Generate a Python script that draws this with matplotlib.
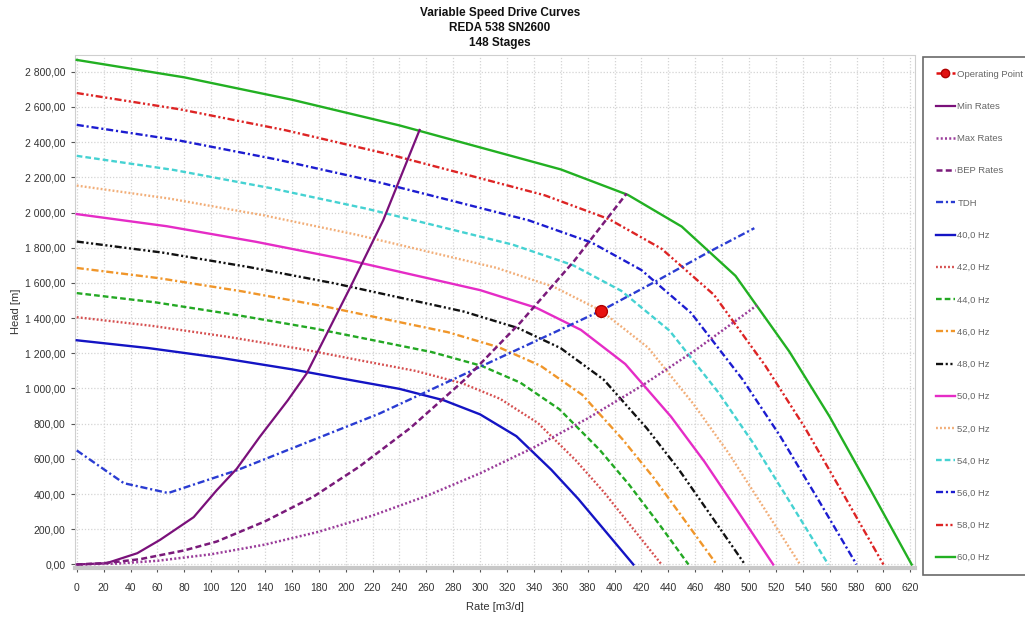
import matplotlib
matplotlib.use("Agg")
import matplotlib.pyplot as plt
from matplotlib.lines import Line2D
from matplotlib.ticker import FuncFormatter, MultipleLocator

plt.rcParams["font.family"] = ["Liberation Sans", "DejaVu Sans"]

title_lines = ["Variable Speed Drive Curves", "REDA 538 SN2600", "148 Stages"]
x_label = "Rate [m3/d]"
y_label = "Head [m]"

# Pump head curves, one per drive frequency (rate m3/d, head m)
rate_40 = [0, 53, 107, 160, 200, 240, 273, 300, 327, 353, 373, 393, 414]
head_40 = [1274, 1230, 1174, 1109, 1053, 998, 933, 853, 729, 538, 373, 191, 0]
rate_42 = [0, 56, 112, 168, 210, 252, 287, 315, 343, 371, 392, 413, 435]
head_42 = [1405, 1356, 1294, 1223, 1161, 1100, 1029, 941, 804, 593, 412, 211, 0]
rate_44 = [0, 59, 117, 176, 220, 264, 301, 330, 359, 389, 411, 433, 455]
head_44 = [1542, 1489, 1420, 1342, 1275, 1207, 1129, 1033, 882, 651, 452, 231, 0]
rate_46 = [0, 61, 123, 184, 230, 276, 314, 345, 376, 406, 429, 452, 476]
head_46 = [1685, 1627, 1552, 1467, 1393, 1320, 1234, 1129, 964, 711, 494, 253, 0]
rate_48 = [0, 64, 128, 192, 240, 288, 328, 360, 392, 424, 448, 472, 497]
head_48 = [1835, 1772, 1690, 1597, 1517, 1437, 1344, 1229, 1050, 774, 538, 275, 0]
rate_50 = [0, 67, 133, 200, 250, 300, 342, 375, 408, 442, 467, 492, 518]
head_50 = [1991, 1922, 1834, 1733, 1646, 1559, 1458, 1333, 1139, 840, 583, 299, 0]
rate_52 = [0, 69, 139, 208, 260, 312, 355, 390, 425, 459, 485, 511, 538]
head_52 = [2153, 2079, 1984, 1874, 1780, 1686, 1577, 1442, 1232, 909, 631, 323, 0]
rate_54 = [0, 72, 144, 216, 270, 324, 369, 405, 441, 477, 504, 531, 559]
head_54 = [2322, 2242, 2139, 2021, 1920, 1818, 1701, 1555, 1328, 980, 680, 348, 0]
rate_56 = [0, 75, 149, 224, 280, 336, 383, 420, 457, 495, 523, 551, 580]
head_56 = [2498, 2411, 2301, 2173, 2065, 1956, 1829, 1673, 1429, 1054, 732, 375, 0]
rate_58 = [0, 77, 155, 232, 290, 348, 396, 435, 474, 512, 541, 570, 600]
head_58 = [2679, 2586, 2468, 2331, 2215, 2098, 1962, 1794, 1532, 1131, 785, 402, 0]
rate_60 = [0, 80, 160, 240, 300, 360, 410, 450, 490, 530, 560, 590, 621]
head_60 = [2867, 2768, 2641, 2495, 2370, 2245, 2100, 1920, 1640, 1210, 840, 430, 0]

# System curve (total dynamic head)
rate_tdh = [0, 35, 68, 119, 170, 225, 280, 335, 390, 431, 470, 504]
head_tdh = [648, 462, 406, 535, 690, 857, 1052, 1247, 1442, 1610, 1775, 1911]

# Operating envelope
rate_min = [0, 22, 45, 62, 87, 104, 119, 136, 157, 171, 203, 228, 255]
head_min = [0, 7, 64, 140, 269, 421, 544, 724, 933, 1085, 1568, 1957, 2469]
rate_max = [0, 30, 60, 100, 140, 180, 220, 260, 300, 340, 380, 420, 460, 506]
head_max = [0, 5, 21, 58, 113, 186, 278, 389, 518, 665, 830, 1014, 1217, 1473]
rate_bep = [0, 20, 47, 80, 104, 140, 176, 210, 248, 290, 330, 370, 409]
head_bep = [0, 7, 30, 80, 130, 245, 385, 555, 775, 1060, 1375, 1725, 2108]

op_rate = [390]
op_head = [1442]

speed_labels = ["40,0 Hz", "42,0 Hz", "44,0 Hz", "46,0 Hz", "48,0 Hz", "50,0 Hz",
                "52,0 Hz", "54,0 Hz", "56,0 Hz", "58,0 Hz", "60,0 Hz"]
speed_rates = [rate_40, rate_42, rate_44, rate_46, rate_48, rate_50,
               rate_52, rate_54, rate_56, rate_58, rate_60]
speed_heads = [head_40, head_42, head_44, head_46, head_48, head_50,
               head_52, head_54, head_56, head_58, head_60]

DOT = (0, (0.8, 0.9))
DASH = (0, (2.4, 1.3))
DASHDOT = (0, (3, 1.2, 0.9, 1.2))
DASHDOTDOT = (0, (3, 1.1, 0.9, 1.1, 0.9, 1.1))

speed_styles = [
    ("#1414c4", "-"),
    ("#d65050", DOT),
    ("#23a823", DASH),
    ("#f0962a", DASHDOT),
    ("#111111", DASHDOTDOT),
    ("#e52cc6", "-"),
    ("#f2ae78", DOT),
    ("#45d2d2", DASH),
    ("#1c1cd0", DASHDOT),
    ("#dd2424", DASHDOTDOT),
    ("#22b022", "-"),
]

fig = plt.figure(figsize=(10.25, 6.17), dpi=100)
ax = fig.add_axes([75 / 1025, 1 - 568 / 617, 840 / 1025, 513 / 617])

lw = 1.7
speed_handles = []
for q, h, lab, (col, ls) in zip(speed_rates, speed_heads, speed_labels, speed_styles):
    ln, = ax.plot(q, h, color=col, linestyle=ls, lw=lw, label=lab, zorder=3)
    speed_handles.append(ln)

tdh, = ax.plot(rate_tdh, head_tdh, color="#2a3cd2", linestyle=DASHDOT, lw=lw,
               label="TDH", zorder=4)
mn, = ax.plot(rate_min, head_min, color="#7a107a", linestyle="-", lw=1.6,
              label="Min Rates", zorder=4)
mx, = ax.plot(rate_max, head_max, color="#9a3c9a", linestyle=DOT, lw=1.8,
              label="Max Rates", zorder=4)
bep, = ax.plot(rate_bep, head_bep, color="#7a1a7a", linestyle=DASH, lw=1.8,
               label="BEP Rates", zorder=4)
ax.plot(op_rate, op_head, linestyle="None", marker="o", markersize=8.5,
        color="#e81010", markeredgecolor="#b00000", zorder=6)
op_handle = Line2D([], [], color="#e01010", linestyle=(0, (2.2, 1.0)), lw=1.8,
                   marker="o", markersize=6, markeredgecolor="#b00000")

ax.set_xlim(-1.3, 623.5)
ax.set_ylim(-20, 2895)
ax.xaxis.set_major_locator(MultipleLocator(20))
ax.yaxis.set_major_locator(MultipleLocator(200))


def head_fmt(v, _pos):
    s = f"{v:,.2f}"
    return s.replace(",", " ").replace(".", ",")


ax.yaxis.set_major_formatter(FuncFormatter(head_fmt))
ax.xaxis.set_major_formatter(FuncFormatter(lambda v, p: f"{v:.0f}"))

ax.grid(True, color="#d4d4d4", linestyle=(0, (1, 1.5)), lw=0.9)
ax.set_axisbelow(True)
for side in ("top", "right", "left"):
    ax.spines[side].set_color("#cfcfcf")
    ax.spines[side].set_linestyle((0, (1, 1)))
ax.spines["bottom"].set_color("#c8c8c8")
ax.spines["bottom"].set_linewidth(3)

ax.tick_params(axis="both", labelsize=7.5, colors="#555555", length=3, width=0.8)
ax.tick_params(axis="y", pad=4)
ax.tick_params(axis="x", pad=8)
for t in ax.get_xticklabels() + ax.get_yticklabels():
    t.set_color("#333333")

ax.set_xlabel(x_label, fontsize=8, color="#333333", labelpad=6)
ax.set_ylabel(y_label, fontsize=8, color="#333333", labelpad=3)

fig.text(500 / 1025, 1 - 28 / 617, "\n".join(title_lines), ha="center", va="center",
         fontsize=8.5, fontweight="bold", color="#111111", linespacing=1.3)

handles = [op_handle, mn, mx, bep, tdh] + speed_handles
labels = ["Operating Point", "Min Rates", "Max Rates", "BEP Rates", "TDH"] + speed_labels
leg = fig.legend(handles, labels, loc="upper left",
                 bbox_to_anchor=(923 / 1025, 1 - 57 / 617),
                 fontsize=6.8, labelcolor="#666666", frameon=True, fancybox=False,
                 edgecolor="#444444", borderpad=1.35, labelspacing=2.46,
                 handlelength=2.0, handletextpad=0.3, borderaxespad=0)
leg.get_frame().set_linewidth(1.2)

fig.savefig("out.png", dpi=100)
